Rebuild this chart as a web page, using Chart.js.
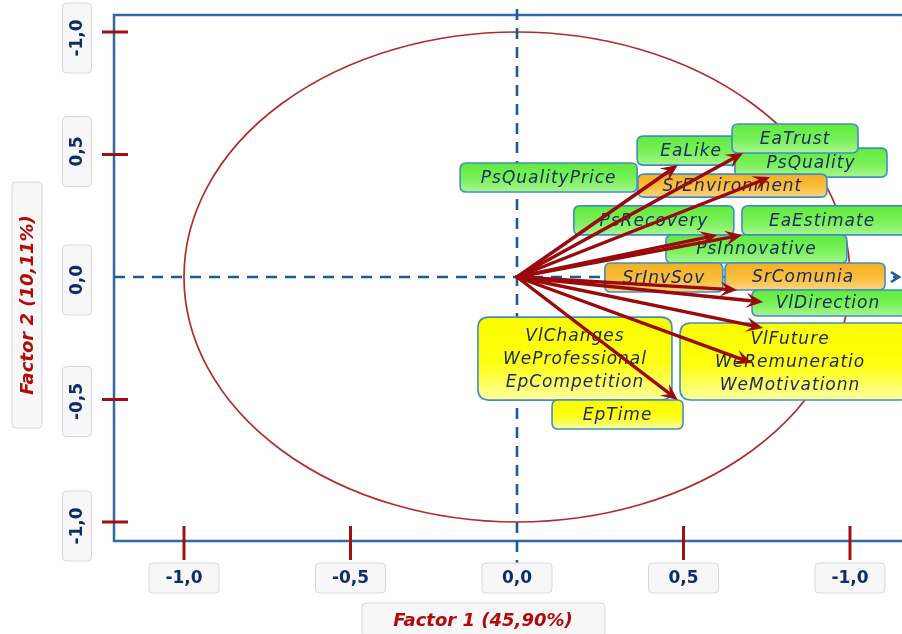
<!DOCTYPE html>
<html><head><meta charset="utf-8">
<script src="https://cdn.jsdelivr.net/npm/chart.js@4.4.1/dist/chart.umd.min.js"></script>
<style>html,body{margin:0;padding:0;background:#fff;overflow:hidden}</style>
</head><body>
<canvas id="c" width="902" height="634"></canvas>
<script>
// ---- data ----
const arrowNames = ['EaLike','EaTrust','PsQuality','PsRecovery','EaEstimate','SrComunia','VlDirection','VlFuture','WeRemuneratio','EpTime'];
const arrowX = [0.483, 0.679, 0.760, 0.601, 0.676, 0.661, 0.739, 0.739, 0.706, 0.483];
const arrowY = [0.457, 0.506, 0.408, 0.171, 0.171, -0.053, -0.102, -0.208, -0.351, -0.502];

const tickValues = [-1, -0.5, 0, 0.5, 1];
const xTickLabels = ['-1,0', '-0,5', '0,0', '0,5', '-1,0'];
const yTickLabels = ['-1,0', '-0,5', '0,0', '0,5', '-1,0'];
const xTitle = 'Factor 1 (45,90%)';
const yTitle = 'Factor 2 (10,11%)';

const labelTexts = ['PsQualityPrice','EaLike','PsQuality','EaTrust','SrEnvironment','PsRecovery','EaEstimate','PsInnovative','SrInvSov','SrComunia','VlDirection','VlChanges\nWeProfessional\nEpCompetition','VlFuture\nWeRemuneratio\nWeMotivationn','EpTime'];
const labelX = [0.095, 0.523, 0.883, 0.835, 0.647, 0.411, 0.928, 0.719, 0.441, 0.865, 0.943, 0.174, 0.835, 0.302];
const labelY = [0.406, 0.516, 0.467, 0.565, 0.373, 0.231, 0.231, 0.114, -0.002, 0.002, -0.106, -0.333, -0.345, -0.561];
const labelKind = ['g','g','g','g','o','g','g','g','o','o','g','y','y','y'];

// ---- layout / style (not data) ----
const boxW = [177, 108, 152, 126, 189, 160, 168, 181, 118, 160, 158, 194, 230, 131];
const boxH = [29, 29, 29, 29, 23, 29, 29, 28, 29, 27, 26, 83, 77, 29];
const textDX = [0, 0, 0, 0, 0, 0, -4, 0, 0, -2, -3, 0, -5, 0];
const yLabelNudge = [4, 2, 3, -3, 6];
const fills = {
  g: ['#62ea3c', '#78f158', '#a9f592'],
  o: ['#f5b021', '#f8bd3c', '#fcd583'],
  y: ['#fbfb00', '#ffff10', '#ffffa0']
};

function rr(ctx, x, y, w, h, r) {
  ctx.beginPath();
  ctx.moveTo(x + r, y);
  ctx.lineTo(x + w - r, y); ctx.quadraticCurveTo(x + w, y, x + w, y + r);
  ctx.lineTo(x + w, y + h - r); ctx.quadraticCurveTo(x + w, y + h, x + w - r, y + h);
  ctx.lineTo(x + r, y + h); ctx.quadraticCurveTo(x, y + h, x, y + h - r);
  ctx.lineTo(x, y + r); ctx.quadraticCurveTo(x, y, x + r, y);
  ctx.closePath();
}

const drawPlugin = {
  id: 'loadingPlot',
  beforeDatasetsDraw(chart) {
    const ctx = chart.ctx, xs = chart.scales.x, ys = chart.scales.y, a = chart.chartArea;
    const cx = xs.getPixelForValue(0), cy = ys.getPixelForValue(0);
    ctx.save();
    // frame
    ctx.strokeStyle = '#2f6aa3'; ctx.lineWidth = 2.5;
    ctx.beginPath();
    ctx.moveTo(902, a.top); ctx.lineTo(a.left, a.top); ctx.lineTo(a.left, a.bottom); ctx.lineTo(902, a.bottom);
    ctx.stroke();
    // circle
    ctx.strokeStyle = '#b22b2b'; ctx.lineWidth = 1.7;
    ctx.beginPath();
    ctx.ellipse(cx, cy, xs.getPixelForValue(1) - cx, cy - ys.getPixelForValue(1), 0, 0, Math.PI * 2);
    ctx.stroke();
    // dashed axes
    ctx.strokeStyle = '#1d5b94'; ctx.lineWidth = 2.6; ctx.setLineDash([11, 8]);
    ctx.beginPath(); ctx.moveTo(cx, a.top - 6); ctx.lineTo(cx, a.bottom + 22); ctx.stroke();
    ctx.beginPath(); ctx.moveTo(a.left, cy); ctx.lineTo(896, cy); ctx.stroke();
    ctx.setLineDash([]);
    ctx.beginPath(); ctx.moveTo(891, cy - 5); ctx.lineTo(899, cy); ctx.lineTo(891, cy + 5); ctx.stroke();
    // label boxes
    for (let i = 0; i < labelTexts.length; i++) {
      const px = xs.getPixelForValue(labelX[i]), py = ys.getPixelForValue(labelY[i]);
      const w = boxW[i], h = boxH[i];
      const x0 = px - w / 2, y0 = py - h / 2;
      const f = fills[labelKind[i]];
      const g = ctx.createLinearGradient(0, y0, 0, y0 + h);
      g.addColorStop(0, f[0]); g.addColorStop(0.55, f[1]); g.addColorStop(1, f[2]);
      rr(ctx, x0, y0, w, h, labelKind[i] === 'y' && h > 40 ? 11 : 6);
      ctx.fillStyle = g; ctx.fill();
      ctx.strokeStyle = '#3f8fc6'; ctx.lineWidth = 1.6; ctx.stroke();
      const lines = labelTexts[i].split('\n');
      ctx.fillStyle = '#1c2b63';
      ctx.font = 'italic 17px "DejaVu Sans"';
      ctx.letterSpacing = '1px';
      ctx.textAlign = 'center'; ctx.textBaseline = 'middle';
      const lh = 23;
      lines.forEach((t, k) => {
        ctx.fillText(t, px + textDX[i], py + (k - (lines.length - 1) / 2) * lh + 1);
      });
      ctx.letterSpacing = '0px';
    }
    ctx.restore();
  },
  afterDatasetsDraw(chart) {
    const ctx = chart.ctx, xs = chart.scales.x, ys = chart.scales.y;
    const cx = xs.getPixelForValue(0), cy = ys.getPixelForValue(0);
    const meta = chart.getDatasetMeta(0);
    ctx.save();
    ctx.strokeStyle = '#9a0a0a'; ctx.fillStyle = '#9a0a0a'; ctx.lineWidth = 3.4; ctx.lineCap = 'round';
    meta.data.forEach(pt => {
      const tx = pt.x, ty = pt.y;
      const ang = Math.atan2(ty - cy, tx - cx);
      const L = 17, W = 7.5, N = 10;
      const bx = tx - N * Math.cos(ang), by = ty - N * Math.sin(ang);
      ctx.beginPath(); ctx.moveTo(cx, cy); ctx.lineTo(bx, by); ctx.stroke();
      const lx = tx - L * Math.cos(ang) + W * Math.sin(ang), ly = ty - L * Math.sin(ang) - W * Math.cos(ang);
      const rx = tx - L * Math.cos(ang) - W * Math.sin(ang), ry = ty - L * Math.sin(ang) + W * Math.cos(ang);
      ctx.beginPath(); ctx.moveTo(tx, ty); ctx.lineTo(lx, ly); ctx.lineTo(bx, by); ctx.lineTo(rx, ry); ctx.closePath();
      ctx.fill();
    });
    ctx.restore();
  },
  afterDraw(chart) {
    const ctx = chart.ctx, xs = chart.scales.x, ys = chart.scales.y, a = chart.chartArea;
    ctx.save();
    // tick marks
    ctx.strokeStyle = '#a01010'; ctx.lineWidth = 3;
    tickValues.forEach(v => {
      if (v !== 0) {
        const px = xs.getPixelForValue(v);
        ctx.beginPath(); ctx.moveTo(px, a.bottom - 15); ctx.lineTo(px, a.bottom + 19); ctx.stroke();
        const py = ys.getPixelForValue(v);
        ctx.beginPath(); ctx.moveTo(a.left - 12, py); ctx.lineTo(a.left + 14, py); ctx.stroke();
      }
    });
    // tick label boxes
    const tickBox = (x, y, w, h) => {
      rr(ctx, x, y, w, h, 4);
      ctx.fillStyle = '#f7f7f7'; ctx.fill();
      ctx.strokeStyle = '#d8d8d8'; ctx.lineWidth = 1; ctx.stroke();
    };
    ctx.font = 'bold 17px "DejaVu Sans"';
    ctx.textAlign = 'center'; ctx.textBaseline = 'middle';
    tickValues.forEach((v, i) => {
      const px = xs.getPixelForValue(v);
      tickBox(px - 35, 563, 70, 30);
      ctx.fillStyle = '#0f2d6b';
      ctx.fillText(xTickLabels[i], px, 579);
      const py = ys.getPixelForValue(v) + yLabelNudge[i];
      ctx.save();
      ctx.translate(77, py); ctx.rotate(-Math.PI / 2);
      tickBox(-35, -14.5, 70, 29);
      ctx.fillStyle = '#0f2d6b';
      ctx.fillText(yTickLabels[i], 0, 1);
      ctx.restore();
    });
    // axis titles
    ctx.font = 'bold italic 18px "DejaVu Sans"';
    tickBox(362, 603, 243, 34);
    ctx.fillStyle = '#b00a0a';
    ctx.fillText(xTitle, 483, 621);
    ctx.save();
    ctx.translate(27, 305); ctx.rotate(-Math.PI / 2);
    tickBox(-123, -15, 246, 30);
    ctx.fillStyle = '#b00a0a';
    ctx.fillText(yTitle, 0, 1);
    ctx.restore();
    ctx.restore();
  }
};

new Chart(document.getElementById('c'), {
  type: 'scatter',
  data: {
    datasets: [{
      label: 'loadings',
      data: arrowX.map((x, i) => ({ x: x, y: arrowY[i] })),
      pointRadius: 0, pointHoverRadius: 0, showLine: false
    }]
  },
  options: {
    responsive: false, animation: false,
    layout: { padding: { left: 114, top: 15, right: 0, bottom: 93 } },
    scales: {
      x: { type: 'linear', min: -1.2102, max: 1.1562, display: false },
      y: { type: 'linear', min: -1.0776, max: 1.0694, display: false }
    },
    plugins: { legend: { display: false }, tooltip: { enabled: false } },
    events: []
  },
  plugins: [drawPlugin]
});
</script>
</body></html>
